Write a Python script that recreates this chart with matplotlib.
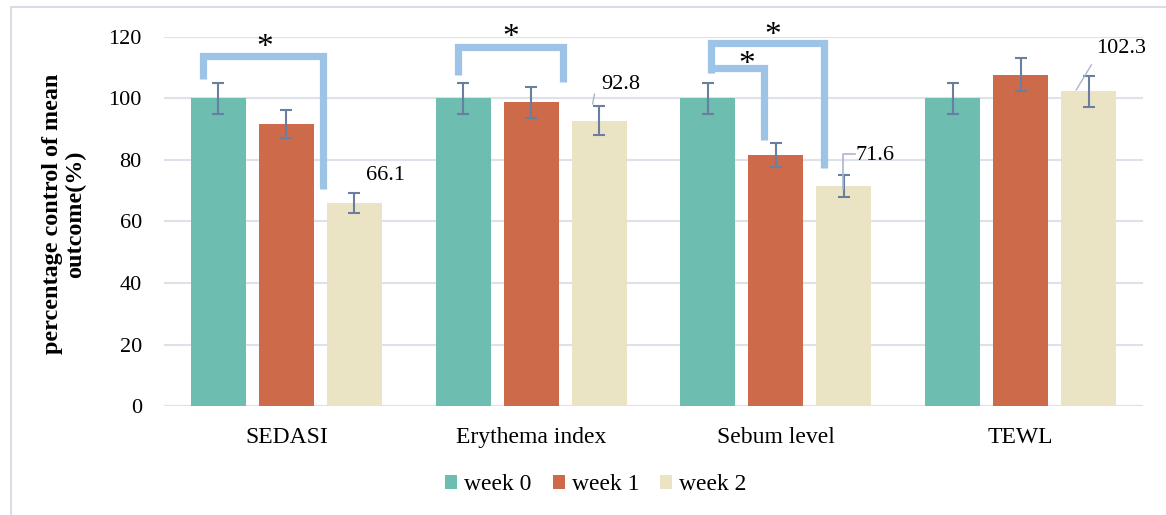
import matplotlib
matplotlib.use("Agg")
import matplotlib.pyplot as plt
from matplotlib.patches import Rectangle, Patch
import numpy as np

categories = ["SEDASI", "Erythema index", "Sebum level", "TEWL"]
series_names = ["week 0", "week 1", "week 2"]
week0 = [100.0, 100.0, 100.0, 100.0]
week1 = [91.6, 98.7, 81.6, 107.7]
week2 = [66.1, 92.8, 71.6, 102.3]
err0 = [5.0, 5.0, 5.0, 5.0]
err1 = [4.6, 4.9, 4.0, 5.4]
err2 = [3.3, 4.7, 3.5, 5.1]
label_text = ["66.1", "92.8", "71.6", "102.3"]
yticks = [0, 20, 40, 60, 80, 100, 120]

colors = ["#6DBDB0", "#CD6A4A", "#EBE4C4"]
err_color = "#6A7FA0"
bracket_color = "#9DC3E6"
grid_color = "#DDE2EA"

plt.rcParams['font.family'] = ['Liberation Serif', 'DejaVu Serif']

W, H = 1166, 515
fig = plt.figure(figsize=(W / 100, H / 100), dpi=100)
ax = fig.add_axes([164 / W, 1 - 406 / H, (1143 - 164) / W, (406 - 37) / H])

x = np.arange(len(categories))
bw = 0.2245
step = 0.2776
vals = [week0, week1, week2]
errs = [err0, err1, err2]
for i in range(3):
    xi = x + (i - 1) * step
    ax.bar(xi, vals[i], width=bw, color=colors[i], zorder=2, label=series_names[i])
    ax.errorbar(xi, vals[i], yerr=errs[i], fmt='none', ecolor=err_color,
                elinewidth=1.5, capsize=4.3, capthick=1.5, zorder=3)

ax.set_xlim(-0.5, 3.5)
ax.set_ylim(0, 120)
ax.set_yticks(yticks)
ax.set_yticklabels([str(t) for t in yticks], fontsize=16)
ax.set_xticks(x)
ax.set_xticklabels(categories, fontsize=17)
ax.tick_params(axis='both', length=0)
ax.tick_params(axis='y', pad=16)
ax.tick_params(axis='x', pad=15)
for s in ax.spines.values():
    s.set_visible(False)
ax.yaxis.grid(True, color=grid_color, linewidth=1.5, zorder=0)
ax.set_axisbelow(True)
ax.axhline(0, color=grid_color, linewidth=1.5, zorder=1)

ax.set_ylabel("percentage control of mean\noutcome(%)", fontsize=17.4,
              fontweight='bold', linespacing=1.15)
ax.yaxis.set_label_coords(-0.0795, 0.52)

# significance brackets (x in category units, y in data units)
brackets = [
    ([-0.34, -0.34, 0.15, 0.15], [106.4, 113.8, 113.8, 70.6]),
    ([0.70, 0.70, 1.13, 1.13], [107.6, 116.9, 116.9, 105.3]),
    ([1.735, 1.735, 2.197, 2.197], [108.3, 118.0, 118.0, 77.4]),
    ([1.735, 1.951, 1.951], [109.8, 109.8, 86.5]),
]
for bx, by in brackets:
    ax.plot(bx, by, color=bracket_color, lw=5.2, solid_capstyle='butt',
            solid_joinstyle='miter', clip_on=False, zorder=4)

stars = [(-0.09, 116.5), (0.918, 119.8), (1.988, 120.5), (1.882, 111.0)]
for sx, sy in stars:
    ax.text(sx, sy, "*", fontsize=24, ha='center', va='center', clip_on=False, zorder=5)

# data labels for week 2
lab_pos = [(0.406, 75.1), (1.366, 104.7), (2.407, 81.6), (3.412, 116.4)]
for (lx, ly), t in zip(lab_pos, label_text):
    ax.text(lx, ly, t, fontsize=16, ha='center', va='center', zorder=5)

leader_color = "#A9B6C9"
ax.plot([1.251, 1.259], [98.2, 101.4], color=leader_color, lw=1, zorder=4)
ax.plot([2.275, 2.275, 2.324], [70.7, 82.0, 82.0], color=leader_color, lw=1.2, zorder=4)
ax.plot([3.227, 3.289], [102.8, 110.9], color=leader_color, lw=1, zorder=4)

handles = [Patch(facecolor=c, edgecolor='none') for c in colors]
fig.legend(handles, series_names, loc='center', bbox_to_anchor=(596 / W, 1 - 485 / H),
           ncol=3, frameon=False, fontsize=17, handlelength=0.5, handleheight=0.5,
           handletextpad=0.3, columnspacing=0.9)

# outer chart frame
fig.add_artist(Rectangle((11 / W, -0.1), 1.2, 1 - 7 / H + 0.1, transform=fig.transFigure,
                         fill=False, edgecolor="#D9DEE6", linewidth=1.5))

fig.savefig("out.png", dpi=100)
